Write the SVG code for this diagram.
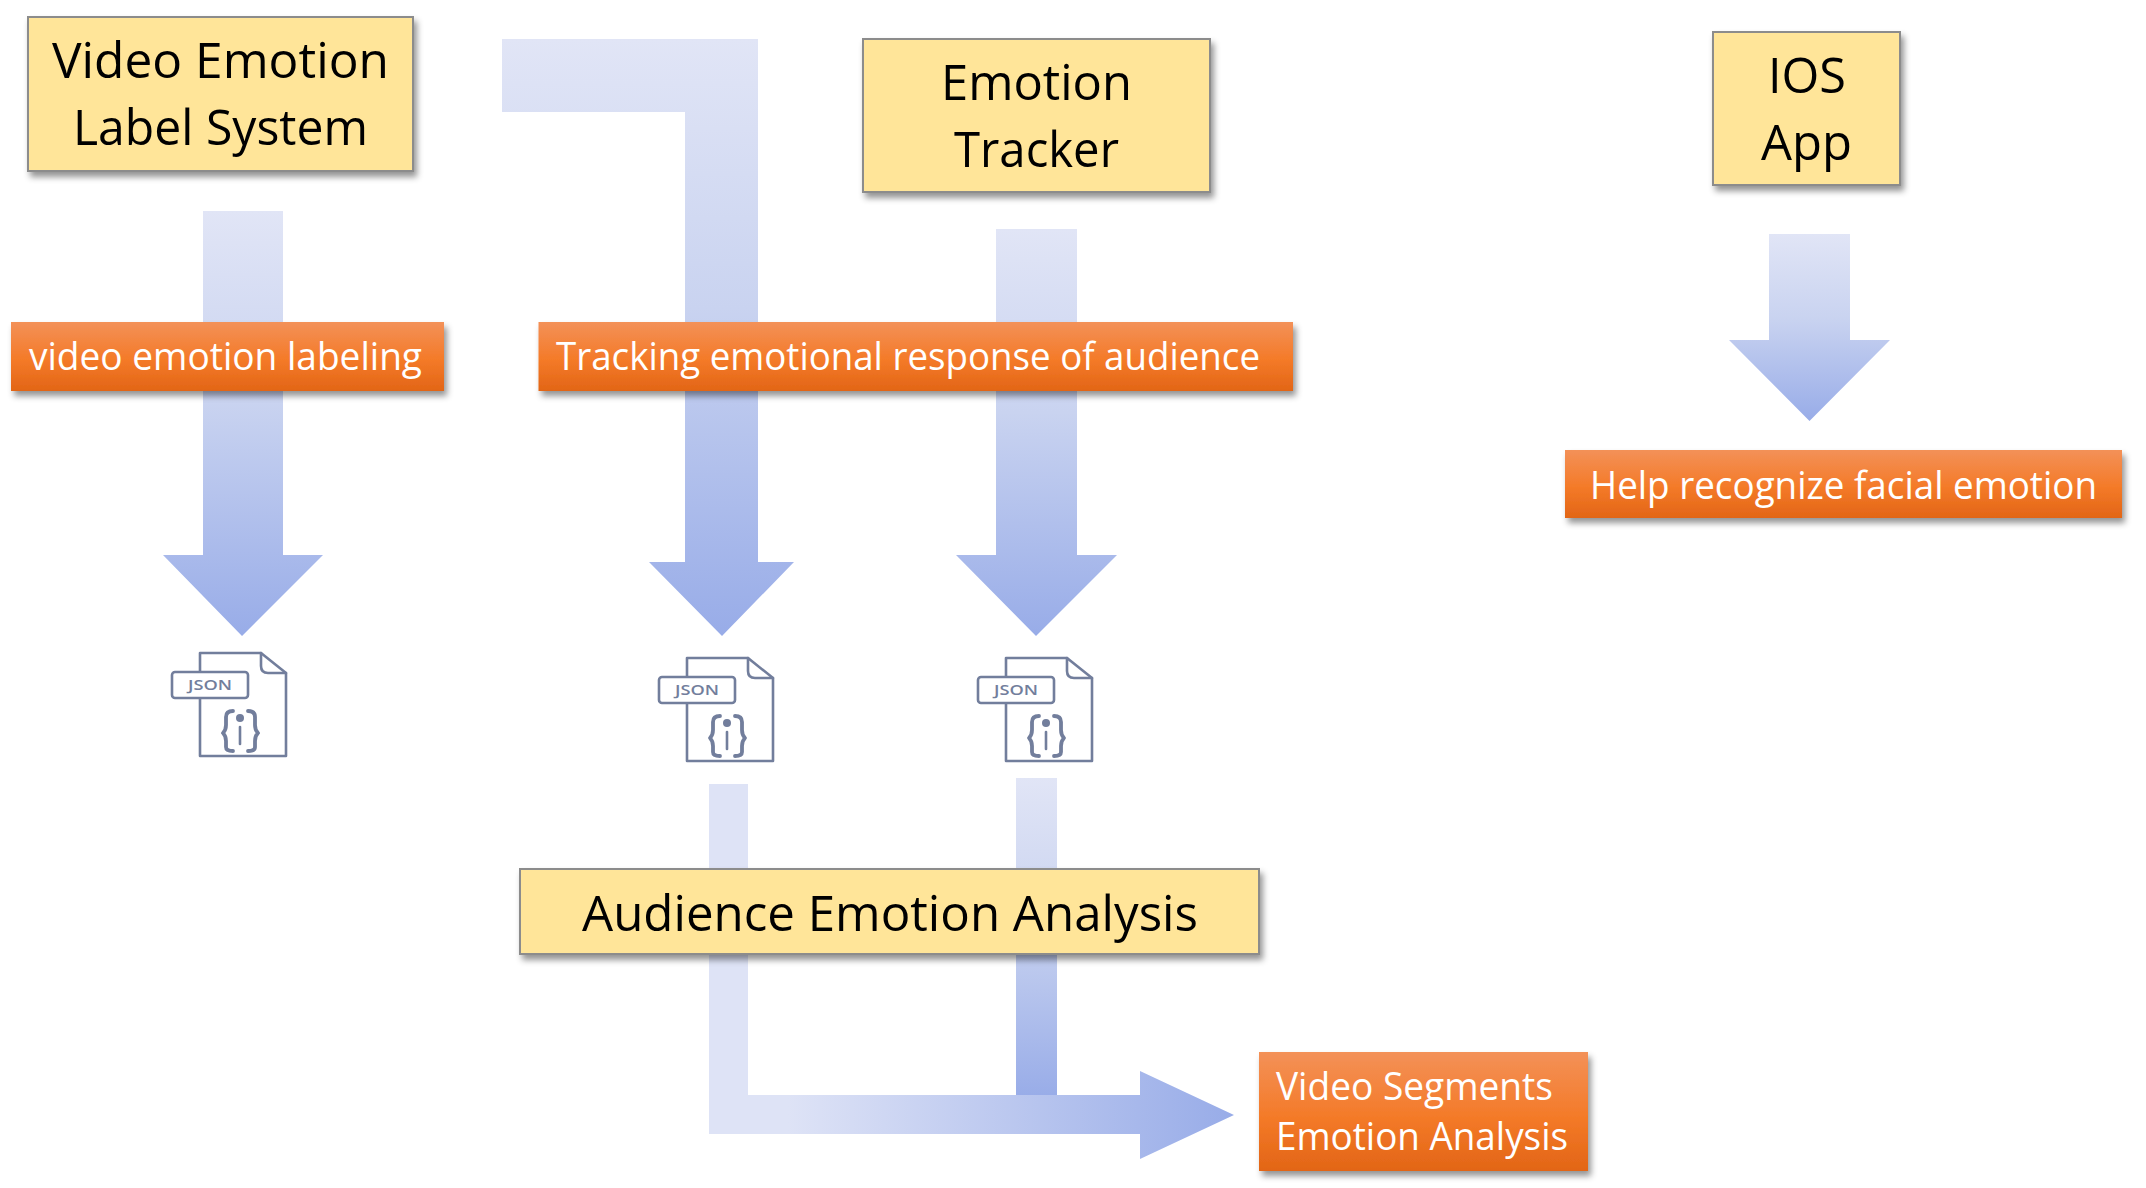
<svg xmlns="http://www.w3.org/2000/svg" xmlns:xlink="http://www.w3.org/1999/xlink" width="2146" height="1188" viewBox="0 0 2146 1188">
<style>
text{font-family:"Open Sans","Noto Sans","Liberation Sans",sans-serif}
.y{fill:#ffe599;stroke:#8c8c8c;stroke-width:2;filter:url(#sh)}
.o{fill:url(#og);filter:url(#sh)}
.yt{font-size:50px;fill:#000}
.ot{font-size:37.500px;fill:#fff}
.ic{fill:#fff;stroke:#727e9c;stroke-width:2.600;stroke-linejoin:round}
.in{fill:none;stroke:#727e9c;stroke-width:2.600;stroke-linejoin:round;stroke-linecap:round}
.br{fill:none;stroke:#727e9c;stroke-width:3.800;stroke-linejoin:round;stroke-linecap:round}
.jt{font-size:13.500px;fill:#727e9c;font-weight:600}
</style>
<defs>
<linearGradient id="bv" x1="0" y1="0" x2="0" y2="1"><stop offset="0" stop-color="#e1e5f6"/><stop offset=".45" stop-color="#c9d3f0"/><stop offset="1" stop-color="#98ace8"/></linearGradient>
<linearGradient id="bh" x1="0" y1="0" x2="1" y2="0"><stop offset=".15" stop-color="#dee3f6"/><stop offset="1" stop-color="#98ace8"/></linearGradient>
<linearGradient id="og" x1="0" y1="0" x2="0" y2="1"><stop offset="0" stop-color="#f39158"/><stop offset=".55" stop-color="#f47a28"/><stop offset="1" stop-color="#e26516"/></linearGradient>
<filter id="sh" x="-10%" y="-20%" width="120%" height="150%"><feDropShadow dx="3" dy="5" stdDeviation="3" flood-color="#000" flood-opacity=".42"/></filter>
<g id="json">
<path class="ic" d="M200 653H261L286 673V756H200Z"/>
<path class="in" d="M261 653V666Q261 673 268 673H286"/>
<rect class="ic" x="172" y="672" width="76" height="26" rx="3"/>
<text class="jt" x="210" y="690" text-anchor="middle" textLength="44" lengthAdjust="spacingAndGlyphs">JSON</text>
<path class="br" d="M233 711Q226 711 226 717V725Q226 730 223 733Q226 736 226 741V747Q226 751 233 751M248 711Q255 711 255 717V725Q255 730 258 733Q255 736 255 741V747Q255 751 248 751"/>
<circle cx="240" cy="718" r="4" fill="#727e9c"/>
<path class="in" d="M240 727V744"/>
</g>
</defs>
<rect width="2146" height="1188" fill="#fff"/>
<g id="connectors">
<path fill="url(#bv)" d="M203 211H283V555H323L242 636L163 555H203Z"/>
<path fill="url(#bv)" d="M502 39H758V562H794L722 636L649 562H685V112H502Z"/>
<path fill="url(#bv)" d="M996 229H1077V555H1117L1036 636L956 555H996Z"/>
<path fill="url(#bv)" d="M1769 234H1850V340H1890L1809.500 421L1729 340H1769Z"/>
<rect x="1016" y="778" width="41" height="320" fill="url(#bv)"/>
<path fill="url(#bh)" d="M709 784H748V1095H1140V1071L1234 1115L1140 1159V1134H709Z"/>
</g>
<g id="node-video-emotion-label-system">
<rect class="y" x="28" y="17" width="385" height="154"/>
<text class="yt" x="52" y="78" textLength="337" lengthAdjust="spacingAndGlyphs">Video Emotion</text>
<text class="yt" x="73" y="145" textLength="295" lengthAdjust="spacingAndGlyphs">Label System</text>
</g>
<g id="node-emotion-tracker">
<rect class="y" x="863" y="39" width="347" height="153"/>
<text class="yt" x="941" y="100" textLength="191" lengthAdjust="spacingAndGlyphs">Emotion</text>
<text class="yt" x="954" y="167" textLength="165" lengthAdjust="spacingAndGlyphs">Tracker</text>
</g>
<g id="node-ios-app">
<rect class="y" x="1713" y="32" width="187" height="153"/>
<text class="yt" x="1768" y="93" textLength="78" lengthAdjust="spacingAndGlyphs">IOS</text>
<text class="yt" x="1761" y="160" textLength="91" lengthAdjust="spacingAndGlyphs">App</text>
</g>
<g id="node-video-emotion-labeling">
<rect class="o" x="11" y="322" width="433" height="69"/>
<text class="ot" x="29" y="370" textLength="393" lengthAdjust="spacingAndGlyphs">video emotion labeling</text>
</g>
<g id="node-tracking">
<rect class="o" x="538.500" y="322" width="754.500" height="69"/>
<text class="ot" x="556" y="370" textLength="704" lengthAdjust="spacingAndGlyphs">Tracking emotional response of audience</text>
</g>
<g id="node-help">
<rect class="o" x="1565" y="450" width="557" height="68"/>
<text class="ot" x="1590" y="499" textLength="507" lengthAdjust="spacingAndGlyphs">Help recognize facial emotion</text>
</g>
<g id="node-json-1"><use xlink:href="#json" href="#json"/></g>
<g id="node-json-2"><use xlink:href="#json" href="#json" x="487" y="5"/></g>
<g id="node-json-3"><use xlink:href="#json" href="#json" x="806" y="5"/></g>
<g id="node-audience-emotion-analysis">
<rect class="y" x="520" y="869" width="739" height="85"/>
<text class="yt" x="582" y="931" textLength="616" lengthAdjust="spacingAndGlyphs">Audience Emotion Analysis</text>
</g>
<g id="node-video-segments">
<rect class="o" x="1259" y="1052" width="329" height="119"/>
<text class="ot" x="1276" y="1100" textLength="277" lengthAdjust="spacingAndGlyphs">Video Segments</text>
<text class="ot" x="1276" y="1150" textLength="292" lengthAdjust="spacingAndGlyphs">Emotion Analysis</text>
</g>
</svg>
